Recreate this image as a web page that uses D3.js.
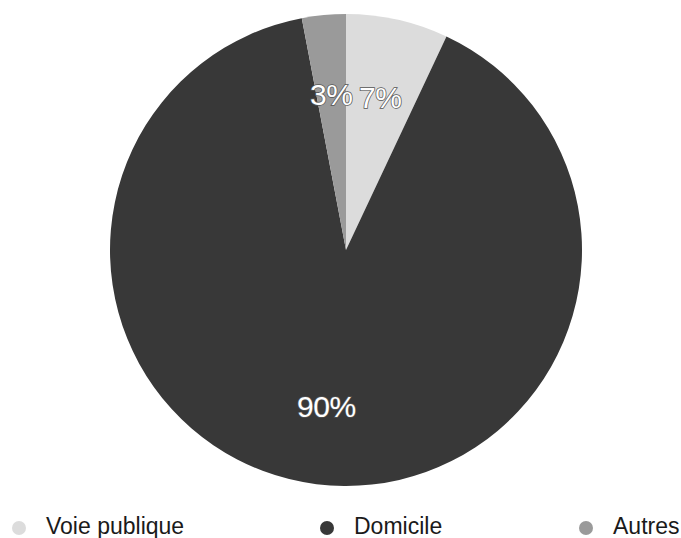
<!DOCTYPE html>
<html><head><meta charset="utf-8">
<script src="https://cdn.jsdelivr.net/npm/d3@7/dist/d3.min.js"></script>
<style>body{margin:0;background:#fff}svg{display:block}</style>
</head><body>
<svg id="c" width="681" height="538"></svg>
<script>
const categories = ["Voie publique", "Domicile", "Autres"];
const values = [7, 90, 3];
const colors = ["#dcdcdc", "#383838", "#9a9a9a"];
const legendX = [19, 327, 586];

const svg = d3.select("#c");
const cx = 346, cy = 250, R = 236;
const pie = d3.pie().sort(null).value(d => d)(values);
const arc = d3.arc().innerRadius(0).outerRadius(R);
const labelArc = d3.arc().innerRadius(157).outerRadius(157);
const g = svg.append("g").attr("transform", `translate(${cx},${cy})`);
g.selectAll("path").data(pie).join("path")
  .attr("d", arc).attr("fill", (d, i) => colors[i]);
g.selectAll("text").data(pie).join("text")
  .attr("transform", d => `translate(${labelArc.centroid(d)})`)
  .attr("text-anchor", "middle").attr("dy", "0.36em")
  .attr("font-family", "Liberation Sans, Arial, sans-serif")
  .attr("font-size", 30)
  .attr("fill", "#fff")
  .attr("stroke", "#555").attr("stroke-width", 1.5).attr("paint-order", "stroke")
  .style("letter-spacing", "-0.5px")
  .text(d => d.data + "%");

const lg = svg.append("g");
categories.forEach((c, i) => {
  lg.append("circle").attr("cx", legendX[i]).attr("cy", 528).attr("r", 7).attr("fill", colors[i]);
  lg.append("text").attr("x", legendX[i] + 27).attr("y", 534)
    .attr("font-family", "Liberation Sans, Arial, sans-serif")
    .attr("font-size", 23).attr("fill", "#1a1a1a").text(c);
});
</script>
</body></html>
